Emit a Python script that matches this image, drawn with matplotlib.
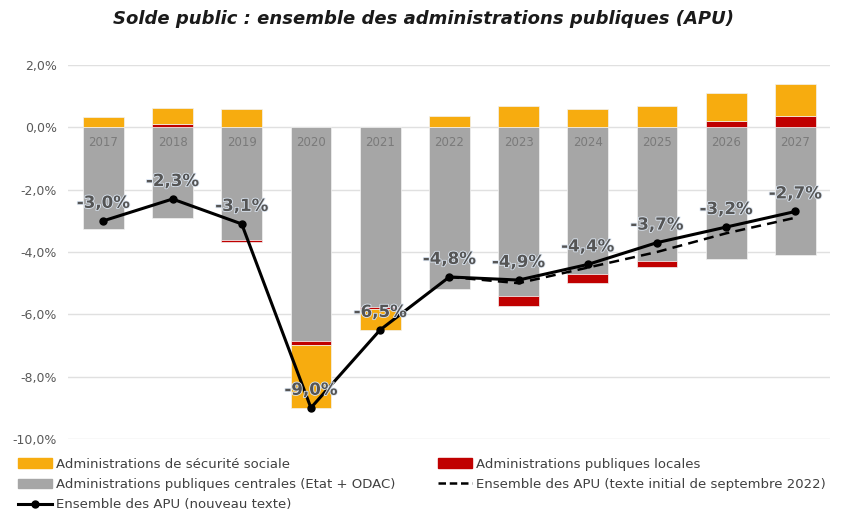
import numpy as np
import matplotlib.pyplot as plt
import matplotlib.patheffects as pe
from matplotlib.lines import Line2D
from matplotlib.patches import Patch

# Data (% du PIB)
years = ['2017', '2018', '2019', '2020', '2021', '2022', '2023', '2024', '2025', '2026', '2027']
secu = [0.30, 0.52, 0.59, -2.0, -0.67, 0.38, 0.70, 0.59, 0.70, 0.90, 1.02]
locales = [0.02, 0.10, -0.07, -0.14, -0.05, 0.0, -0.30, -0.29, -0.20, 0.20, 0.38]
centrales = [-3.25, -2.90, -3.60, -6.86, -5.77, -5.20, -5.42, -4.70, -4.29, -4.21, -4.10]
apu_new = [-3.0, -2.3, -3.1, -9.0, -6.5, -4.8, -4.9, -4.4, -3.7, -3.2, -2.7]
apu_sept_years = ['2022', '2023', '2024', '2025', '2026', '2027']
apu_sept = [-4.8, -5.0, -4.5, -4.0, -3.4, -2.9]
yticks = [2, 0, -2, -4, -6, -8, -10]

col_secu = '#F7AC0F'
col_loc = '#C00000'
col_cent = '#A6A6A6'

fig = plt.figure(figsize=(8.46, 5.12), dpi=100)
ax = fig.add_axes([0.0804, 0.1426, 0.9006, 0.7304])

x = np.arange(len(years))
w = 0.59

secu = np.array(secu)
locales = np.array(locales)
centrales = np.array(centrales)

# stacking: positives stack upward from 0, negatives downward
pos_base = np.zeros(len(years))
neg_base = np.zeros(len(years))

def stack(vals, color):
    global pos_base, neg_base
    bottoms = np.where(vals >= 0, pos_base, neg_base)
    ax.bar(x, vals, w, bottom=bottoms, color=color, edgecolor='#f2f2f2', linewidth=0.5, zorder=2)
    pos_base = pos_base + np.where(vals >= 0, vals, 0)
    neg_base = neg_base + np.where(vals < 0, vals, 0)

stack(centrales, col_cent)
stack(locales, col_loc)
stack(secu, col_secu)

# year labels inside bars
for xi, yr in zip(x, years):
    ax.text(xi, -0.27, yr, ha='center', va='top', fontsize=8.5, color='#7a7a7a', zorder=3)

# lines
sept_x = [years.index(y) for y in apu_sept_years]
ax.plot(sept_x, apu_sept, color='black', linestyle='--', linewidth=1.8, dashes=(4, 2.5), zorder=4)
ax.plot(x, apu_new, color='black', linewidth=2.2, marker='o', markersize=5, zorder=5)

for xi, v in zip(x, apu_new):
    ax.annotate(f'{v:.1f}%'.replace('.', ','), (xi, v), xytext=(0, 13), textcoords='offset points',
                ha='center', va='center', fontsize=12, fontweight='bold', color='#555555', zorder=6,
                path_effects=[pe.withStroke(linewidth=1.2, foreground='#dce6f2')])

ax.set_xlim(-0.51, 10.5)
ax.set_ylim(-10, 2)
ax.set_yticks(yticks)
ax.set_yticklabels([f'{t:.1f}%'.replace('.', ',') for t in yticks], fontsize=9, color='#595959')
ax.set_xticks([])
ax.grid(axis='y', color='#e0e0e0', linewidth=1, zorder=0)
ax.set_axisbelow(True)
for s in ax.spines.values():
    s.set_visible(False)
ax.tick_params(axis='y', length=0, pad=8)

fig.text(0.5, 0.962, 'Solde public : ensemble des administrations publiques (APU)', ha='center', va='center',
         fontsize=13, fontweight='bold', fontstyle='italic', color='#1a1a1a')

handles = [
    Patch(color=col_secu, label='Administrations de sécurité sociale'),
    Patch(color=col_cent, label='Administrations publiques centrales (Etat + ODAC)'),
    Line2D([], [], color='black', linewidth=2.2, marker='o', markersize=5, label='Ensemble des APU (nouveau texte)'),
    Patch(color=col_loc, label='Administrations publiques locales'),
    Line2D([], [], color='black', linestyle='--', linewidth=1.8, dashes=(3, 1.5), label='Ensemble des APU (texte initial de septembre 2022)'),
]
fig.legend(handles=handles, loc='upper left', bbox_to_anchor=(0.021, 0.106), ncol=2, frameon=False,
           fontsize=9.5, labelcolor='#404040', handlelength=2.6, handleheight=0.7, handletextpad=0.3,
           columnspacing=3.2, labelspacing=0.55, borderpad=0, borderaxespad=0)

fig.savefig('out.png', dpi=100)
